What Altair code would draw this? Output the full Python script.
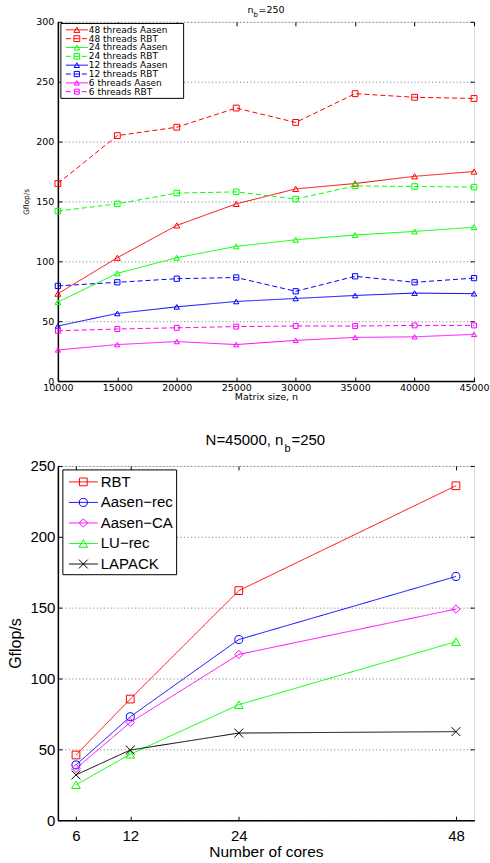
import altair as alt
import pandas as pd

# ---------------- top panel data ----------------
matrix_sizes = [10000, 15000, 20000, 25000, 30000, 35000, 40000, 45000]
top_series = ["48 threads Aasen", "48 threads RBT", "24 threads Aasen", "24 threads RBT",
              "12 threads Aasen", "12 threads RBT", "6 threads Aasen", "6 threads RBT"]
aasen48 = [73, 103, 130, 148, 160.5, 165, 171, 175]
rbt48 = [165, 205, 212, 228, 216, 240, 237, 236]
aasen24 = [66, 90, 103, 112.5, 118, 122, 125, 128.5]
rbt24 = [142, 148, 157, 158, 152, 163, 162.5, 162]
aasen12 = [46, 56.5, 62, 66.5, 69, 71.5, 73.5, 73]
rbt12 = [79.5, 82.5, 85.5, 86.5, 75, 87.5, 82.5, 86]
aasen6 = [26, 30.5, 33, 30.5, 34, 36.5, 37, 39]
rbt6 = [42, 43.5, 44.5, 45.5, 46, 46, 46.5, 46.5]
top_values = [aasen48, rbt48, aasen24, rbt24, aasen12, rbt12, aasen6, rbt6]
top_colors = ["#ff0000", "#ff0000", "#00ff00", "#00ff00",
              "#0000ff", "#0000ff", "#ff00ff", "#ff00ff"]
top_dashes = [[1, 0], [5, 3]] * 4
top_shapes = ["triangle-up", "square"] * 4
top_sizes = [36, 24] * 4
top_y_ticks = [0, 50, 100, 150, 200, 250, 300]

# ---------------- bottom panel data ----------------
cores = [6, 12, 24, 48]
bot_series = ["RBT", "Aasen\u2212rec", "Aasen\u2212CA", "LU\u2212rec", "LAPACK"]
rbt = [46, 85.5, 162, 236]
aasen_rec = [39, 73, 127.5, 172]
aasen_ca = [36.5, 69, 117, 149]
lu_rec = [25, 46.5, 81.5, 126]
lapack = [32, 49.5, 61.5, 62.5]
bot_values = [rbt, aasen_rec, aasen_ca, lu_rec, lapack]
bot_colors = ["#ff0000", "#0000ff", "#ff00ff", "#00ff00", "#000000"]
bot_shapes = ["square", "circle", "diamond", "triangle-up", "M-1,-1L1,1M-1,1L1,-1"]
bot_sizes = [60, 80, 90, 110, 42]
bot_y_ticks = [0, 50, 100, 150, 200, 250]

W, H1, H2 = 417, 360, 355
F1 = "DejaVu Sans"
F2 = "Liberation Sans"

top_df = pd.DataFrame(
    [{"n": n, "gflops": v, "series": s}
     for s, vals in zip(top_series, top_values) for n, v in zip(matrix_sizes, vals)]
)
bot_df = pd.DataFrame(
    [{"cores": c, "gflops": v, "series": s}
     for s, vals in zip(bot_series, bot_values) for c, v in zip(cores, vals)]
)
top_leg = pd.DataFrame({"idx": list(range(len(top_series))), "series": top_series})
bot_leg = pd.DataFrame({"idx": list(range(len(bot_series))), "series": bot_series})
one = pd.DataFrame({"k": [0]})


def tick_axis(orient, offset, values):
    return alt.Axis(orient=orient, offset=offset, values=values, labels=False, title=None,
                    tickSize=4, tickColor="black", tickWidth=1, domain=False, grid=False)


def panel(df, xfield, xdom, xvals, xtitle, ydom, yvals, H, series, colors, dashes, shapes,
          sizes, font, lab_fs, xtitle_fs, ytitle_fs, xlabpad, ylabpad, xtitle_y, ytitle_x,
          xfmt):
    xs = alt.Scale(domain=xdom, nice=False, zero=False)
    ys = alt.Scale(domain=ydom, nice=False, zero=False)
    col = alt.Color("series:N", scale=alt.Scale(domain=series, range=colors), legend=None)
    dash = alt.StrokeDash("series:N", scale=alt.Scale(domain=series, range=dashes), legend=None)
    shp = alt.Shape("series:N", scale=alt.Scale(domain=series, range=shapes), legend=None)
    siz = alt.Size("series:N", scale=alt.Scale(domain=series, range=sizes), legend=None)

    lines = alt.Chart(df).mark_line(strokeWidth=1).encode(
        x=alt.X(f"{xfield}:Q", scale=xs, axis=alt.Axis(
            orient="bottom", values=xvals, format=xfmt, title=xtitle, tickSize=0,
            labelPadding=xlabpad, labelFont=font, labelFontSize=lab_fs, labelColor="black",
            titleFont=font, titleFontSize=xtitle_fs, titleFontWeight="normal", titleColor="black",
            titleY=xtitle_y, titleBaseline="middle", grid=False, domain=True,
            domainColor="black", domainWidth=1.5, labelFlush=False)),
        y=alt.Y("gflops:Q", scale=ys, axis=alt.Axis(
            orient="left", values=yvals, title="Gflop/s", tickSize=0, labelPadding=ylabpad,
            labelFont=font, labelFontSize=lab_fs, labelColor="black", titleFont=font,
            titleFontSize=ytitle_fs, titleFontWeight="normal", titleColor="black",
            titleX=ytitle_x, titleY=H / 2, titleBaseline="middle", titleAngle=270,
            grid=True, gridDash=[1, 2.5], gridColor="#777777", gridWidth=1,
            domain=True, domainColor="black", domainWidth=1.5, labelFlush=False)),
        color=col, strokeDash=dash,
    )
    points = alt.Chart(df).mark_point(filled=False, strokeWidth=1, opacity=1).encode(
        x=alt.X(f"{xfield}:Q", scale=xs, axis=tick_axis("top", -H, xvals)),
        y=alt.Y("gflops:Q", scale=ys, axis=tick_axis("right", -W, yvals)),
        color=col, shape=shp, size=siz,
    )
    ghost = alt.Chart(df).mark_point(opacity=0).encode(
        x=alt.X(f"{xfield}:Q", scale=xs, axis=tick_axis("bottom", -H, xvals)),
        y=alt.Y("gflops:Q", scale=ys, axis=tick_axis("left", -W, yvals)),
    )
    return alt.layer(lines, points, ghost), col, dash, shp, siz


def legend(leg_df, box, rows, line_x, mark_x, text_x, font, fs, col, dash, shp, siz):
    n = len(leg_df)
    ys = alt.Y("idx:Q", scale=alt.Scale(domain=[0, n - 1], range=rows), axis=None)
    frame = alt.Chart(one).mark_rect(fill="white", stroke="black", strokeWidth=1).encode(
        x=alt.value(box[0]), x2=alt.value(box[1]), y=alt.value(box[2]), y2=alt.value(box[3]))
    segs = alt.Chart(leg_df).mark_rule(strokeWidth=1).encode(
        x=alt.value(line_x[0]), x2=alt.value(line_x[1]), y=ys, color=col, strokeDash=dash)
    marks = alt.Chart(leg_df).mark_point(filled=False, strokeWidth=1, opacity=1).encode(
        x=alt.value(mark_x), y=ys, color=col, shape=shp, size=siz)
    texts = alt.Chart(leg_df).mark_text(align="left", baseline="middle", font=font,
                                        fontSize=fs, color="black").encode(
        x=alt.value(text_x), y=ys, text="series:N")
    return [frame, segs, marks, texts]


def text_piece(txt, x, y, font, fs):
    return alt.Chart(one).mark_text(align="left", baseline="alphabetic", font=font,
                                    fontSize=fs, color="black").encode(
        x=alt.value(x), y=alt.value(y), text=alt.value(txt))


# ---------------- top panel ----------------
top_main, tcol, tdash, tshp, tsiz = panel(
    top_df, "n", [10000, 45000], matrix_sizes, "Matrix size, n", [0, 300], top_y_ticks, H1,
    top_series, top_colors, top_dashes, top_shapes, top_sizes, F1, 9.5, 9.5, 7.5,
    1, 4, 15.5, -31, "d")
top_legend = legend(top_leg, [3, 126, 1.7, 76.7], [8, 70], [8, 30], 19, 31, F1, 9,
                    tcol, tdash, tshp, tsiz)
top_title = [text_piece("n", 190, -9.3, F1, 9.5),
             text_piece("b", 196, -5, F1, 7),
             text_piece("=250", 201, -9.3, F1, 9.5)]
top = alt.layer(top_main, *top_legend, *top_title).resolve_scale(y="independent").properties(
    width=W, height=H1)

# ---------------- bottom panel ----------------
bot_dashes = [[1, 0]] * 5
bot_main, bcol, bdash, bshp, bsiz = panel(
    bot_df, "cores", [4, 50], cores, "Number of cores", [0, 250], bot_y_ticks, H2,
    bot_series, bot_colors, bot_dashes, bot_shapes, bot_sizes, F2, 15, 15.5, 16,
    8, 3, 31, -42, "d")
bot_legend = legend(bot_leg, [5, 119, 4, 109], [16, 98.3], [11, 40], 25.5, 43, F2, 15,
                    bcol, bdash, bshp, bsiz)
bot_title = [text_piece("N=45000, n", 148, -21, F2, 15),
             text_piece("b", 227, -14, F2, 11),
             text_piece("=250", 234, -21, F2, 15)]
bottom = alt.layer(bot_main, *bot_legend, *bot_title).resolve_scale(y="independent").properties(
    width=W, height=H2)

chart = alt.vconcat(top, bottom, spacing=30).resolve_scale(
    color="independent", shape="independent", strokeDash="independent", size="independent"
).properties(
    padding={"left": 7, "top": 3, "right": 0, "bottom": 0}
).configure_view(stroke="black", strokeWidth=1).configure(background="white")

chart.save("out.html", embed_options={"renderer": "svg", "actions": False})
